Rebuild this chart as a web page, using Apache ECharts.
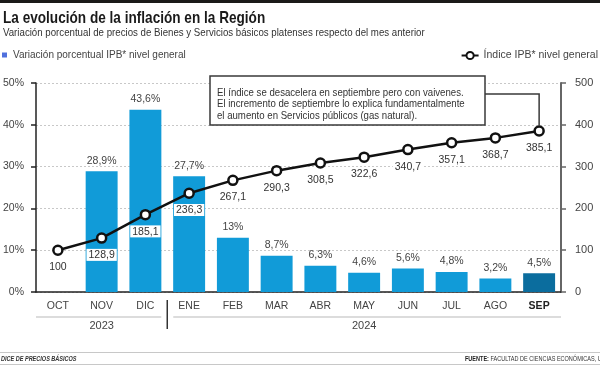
<!DOCTYPE html>
<html>
<head>
<meta charset="utf-8">
<script src="https://cdn.jsdelivr.net/npm/echarts@6/dist/echarts.min.js"></script>
<style>html,body{margin:0;padding:0;background:#fff;}#c{width:600px;height:365px;}</style>
</head>
<body>
<div id="c"></div>
<script>
const categories = ['OCT','NOV','DIC','ENE','FEB','MAR','ABR','MAY','JUN','JUL','AGO','SEP'];
const variacion = [null, 28.9, 43.6, 27.7, 13, 8.7, 6.3, 4.6, 5.6, 4.8, 3.2, 4.5];
const indice = [100, 128.9, 185.1, 236.3, 267.1, 290.3, 308.5, 322.6, 340.7, 357.1, 368.7, 385.1];
const yearLabels = ['', '2023', '', '', '', '', '', '2024', '', '', '', ''];
const seriesNames = ['Variación porcentual IPB* nivel general', 'Índice IPB* nivel general'];

const SANS = "'Liberation Sans', Arial, sans-serif";
const BLUE = '#119bd8';
const DARKBLUE = '#0b6d9e';

const chart = echarts.init(document.getElementById('c'), null, {renderer: 'canvas'});
const fmt = v => String(v).replace('.', ',');

const option = {
  animation: false,
  backgroundColor: '#fff',
  grid: {left: 33, right: 39, top: 83, bottom: 73},
  legend: [
    {data: [seriesNames[0]], left: 2, top: 50, padding: 0, icon: 'rect', itemWidth: 5, itemHeight: 5,
     textStyle: {fontFamily: SANS, fontSize: 10, color: '#444', padding: [0, 0, 0, 1]}},
    {data: [seriesNames[1]], right: 2, top: 50, padding: 0, itemWidth: 17, itemHeight: 9,
     textStyle: {fontFamily: SANS, fontSize: 10.5, color: '#444'}}
  ],
  xAxis: [
    {type: 'category', data: categories, boundaryGap: true,
     axisLine: {lineStyle: {color: '#222', width: 1.5}},
     axisTick: {inside: true, length: 4, lineStyle: {color: '#4a3a30', width: 1.5}},
     axisLabel: {interval: 0, margin: 9, fontFamily: SANS, fontSize: 10.5, color: '#444',
       formatter: v => v === 'SEP' ? '{b|' + v + '}' : v,
       rich: {b: {fontFamily: SANS, fontSize: 10.5, fontWeight: 'bold', color: '#222'}}}},
    {type: 'category', data: yearLabels, position: 'bottom', offset: 20,
     axisLine: {show: false}, axisTick: {show: false},
     axisLabel: {interval: 0, margin: 8, fontFamily: SANS, fontSize: 11, color: '#444'}}
  ],
  yAxis: [
    {type: 'value', min: 0, max: 50, interval: 10, position: 'left',
     axisLine: {show: true, lineStyle: {color: '#222', width: 1.5}},
     axisTick: {show: true, length: 5, lineStyle: {color: '#222', width: 1.5}},
     axisLabel: {formatter: '{value}%', margin: 12, fontFamily: SANS, fontSize: 10.5, color: '#444'},
     splitLine: {show: true, lineStyle: {color: '#c8c8c8', type: [2, 2], width: 1}}},
    {type: 'value', min: 0, max: 500, interval: 100, position: 'right',
     axisLine: {show: true, lineStyle: {color: '#666', width: 2}},
     axisTick: {show: true, length: 5, lineStyle: {color: '#666', width: 1.5}},
     axisLabel: {margin: 14, fontFamily: SANS, fontSize: 11, color: '#444'},
     splitLine: {show: false}}
  ],
  series: [
    {name: seriesNames[0], type: 'bar', data: variacion, barWidth: '73%',
     itemStyle: {color: p => p.dataIndex === categories.length - 1 ? DARKBLUE : BLUE},
     label: {show: true, position: 'top', distance: 5, fontFamily: SANS, fontSize: 10.5, color: '#444',
       formatter: p => fmt(p.value) + '%'}},
    {name: seriesNames[1], type: 'line', yAxisIndex: 1, data: indice, z: 5,
     symbol: 'circle', symbolSize: 9, showAllSymbol: true,
     lineStyle: {color: '#111', width: 2.5},
     itemStyle: {color: '#fff', borderColor: '#111', borderWidth: 2.5},
     label: {show: true, position: 'bottom', distance: 5, fontFamily: SANS, fontSize: 10.5, color: '#333',
       backgroundColor: '#fff', padding: [1, 2, 0, 2], formatter: p => fmt(p.value)}}
  ]
};
chart.setOption(option);

const px = i => chart.convertToPixel({xAxisIndex: 0}, i);
const bw = px(1) - px(0);
const leftEdge = i => px(i) - bw / 2;
const rightEdge = i => px(i) + bw / 2;
const baseY = chart.convertToPixel({yAxisIndex: 0}, 0);
const last = categories.length - 1;
const sepPt = chart.convertToPixel({seriesIndex: 1}, [last, indice[last]]);
const split = 3; // first 2024 index
const gy = baseY + 25;

chart.setOption({
  graphic: [
    {type: 'rect', z: 100, shape: {x: 0, y: 0, width: 600, height: 3}, style: {fill: '#1b1a18'}},
    {type: 'text', z: 100, x: 3, y: 10, scaleX: 0.8, style: {text: 'La evolución de la inflación en la Región',
      font: 'bold 17px ' + SANS, fill: '#1a1a1a', align: 'left', verticalAlign: 'top'}},
    {type: 'text', z: 100, x: 3, y: 27, scaleX: 0.88, style: {text: 'Variación porcentual de precios de Bienes y Servicios básicos platenses respecto del mes anterior',
      font: '11px ' + SANS, fill: '#333', align: 'left', verticalAlign: 'top'}},
    {type: 'rect', z: 100, shape: {x: 210, y: 76, width: 275, height: 49},
     style: {fill: '#fff', stroke: '#3a3a3a', lineWidth: 1.5}},
    {type: 'text', z: 101, x: 217, y: 87, scaleX: 0.875, style: {
      text: 'El índice se desacelera en septiembre pero con vaivenes.\nEl incremento de septiembre lo explica fundamentalmente\nel aumento en Servicios públicos (gas natural).',
      font: '11px ' + SANS, lineHeight: 11.5, fill: '#333', align: 'left', verticalAlign: 'top'}},
    {type: 'polyline', z: 100, shape: {points: [[485, 94], [sepPt[0], 94], [sepPt[0], sepPt[1] - 5]]},
     style: {stroke: '#3a3a3a', lineWidth: 1.5, fill: null}},
    {type: 'line', z: 100, shape: {x1: leftEdge(0), y1: gy, x2: rightEdge(split - 1) - 6, y2: gy},
     style: {stroke: '#d0d0d0', lineWidth: 1.5}},
    {type: 'line', z: 100, shape: {x1: leftEdge(split) + 6, y1: gy, x2: rightEdge(last), y2: gy},
     style: {stroke: '#d0d0d0', lineWidth: 1.5}},
    {type: 'line', z: 100, shape: {x1: leftEdge(split), y1: baseY + 8, x2: leftEdge(split), y2: baseY + 37},
     style: {stroke: '#333', lineWidth: 1.5}},
    {type: 'line', z: 100, shape: {x1: 0, y1: 352.5, x2: 600, y2: 352.5}, style: {stroke: '#c8c8c8', lineWidth: 1}},
    {type: 'line', z: 100, shape: {x1: 0, y1: 364.5, x2: 600, y2: 364.5}, style: {stroke: '#c8c8c8', lineWidth: 1}},
    {type: 'text', z: 100, x: 1, y: 359, scaleX: 0.85, style: {text: 'DICE DE PRECIOS BÁSICOS',
      font: 'italic bold 6.5px ' + SANS, fill: '#333', align: 'left', verticalAlign: 'middle'}},
    {type: 'text', z: 100, x: 465, y: 359, scaleX: 0.85, style: {text: '{b|FUENTE:} FACULTAD DE CIENCIAS ECONÓMICAS, U',
      font: '6.5px ' + SANS, fill: '#333', align: 'left', verticalAlign: 'middle',
      rich: {b: {font: 'bold 6.5px ' + SANS, fill: '#222'}}}}
  ]
});
</script>
</body>
</html>
